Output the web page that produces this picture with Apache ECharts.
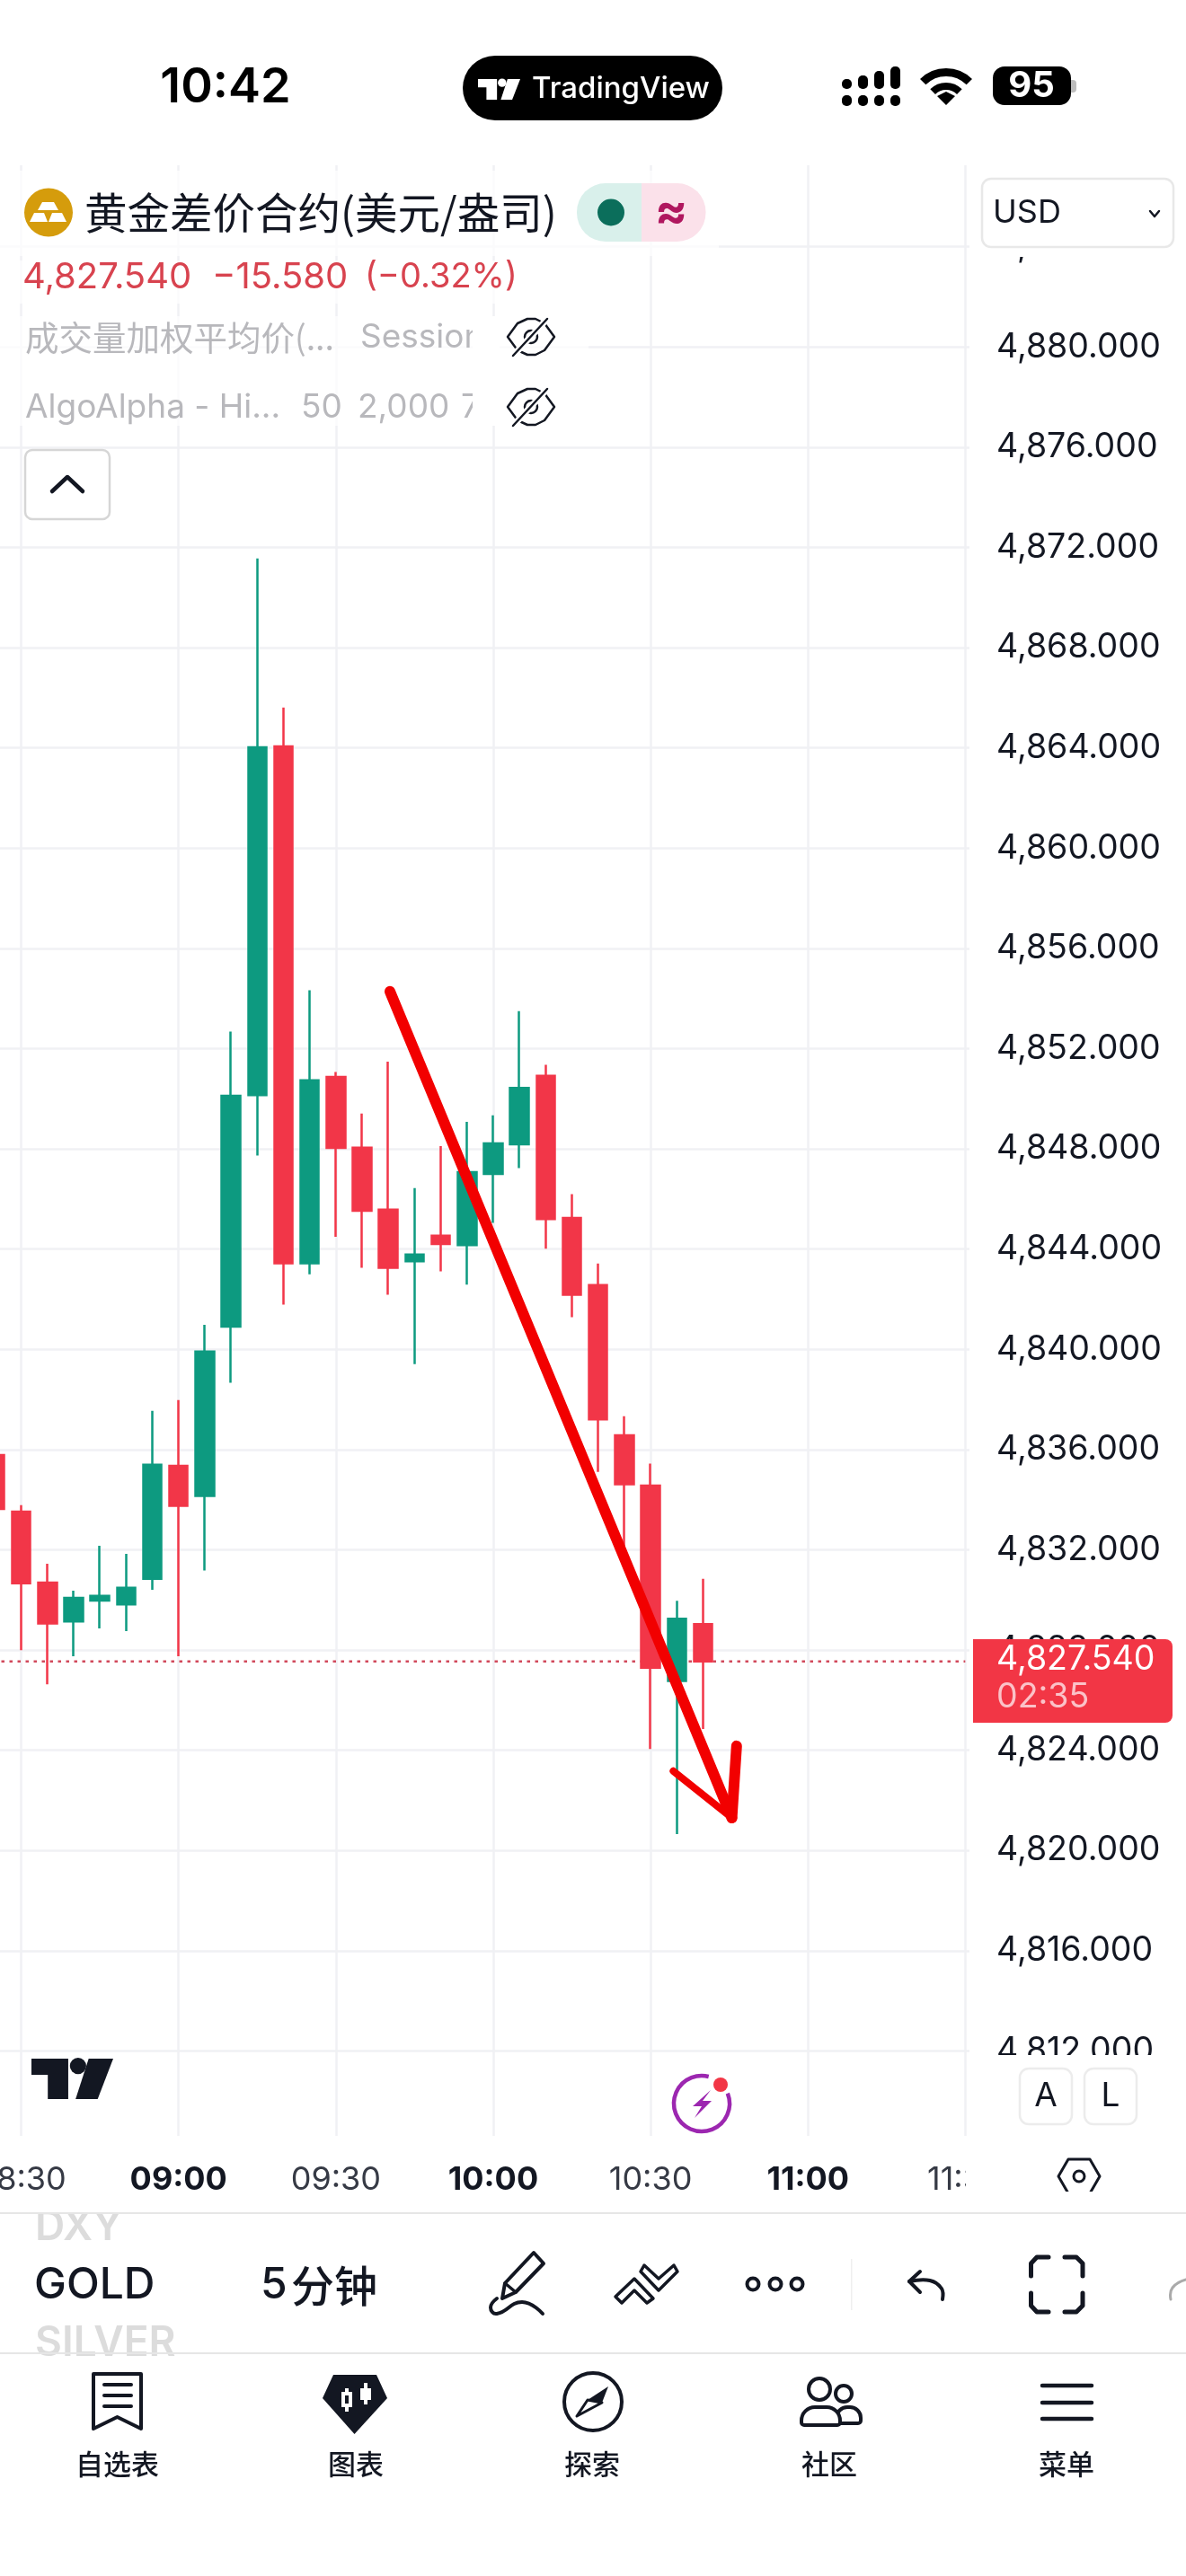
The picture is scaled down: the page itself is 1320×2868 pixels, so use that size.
<!DOCTYPE html>
<html>
<head>
<meta charset="utf-8">
<title>GOLD</title>
<script src="https://cdn.jsdelivr.net/npm/echarts@6/dist/echarts.min.js"></script>
<style>
html,body{margin:0;padding:0;background:#fff;}
#chart{width:1320px;height:2868px;}
</style>
</head>
<body>
<div id="chart"></div>
<script>
// 5 minute bars
var barTimes = ['08:25','08:30','08:35','08:40','08:45','08:50','08:55','09:00','09:05','09:10','09:15','09:20','09:25','09:30','09:35','09:40','09:45','09:50','09:55','10:00','10:05','10:10','10:15','10:20','10:25','10:30','10:35','10:40'];
var opens  = [4835.78,4833.52,4830.69,4829.14,4829.97,4829.82,4830.84,4835.35,4834.15,4840.90,4850.14,4864.06,4843.43,4850.87,4848.05,4845.57,4843.51,4844.53,4844.16,4847.00,4848.18,4850.91,4845.24,4842.56,4836.57,4834.56,4826.76,4829.03];
var closes = [4833.63,4830.66,4829.06,4830.08,4830.16,4830.48,4835.39,4833.75,4839.91,4850.12,4864.02,4843.43,4850.73,4848.04,4845.53,4843.25,4843.78,4844.20,4847.07,4848.22,4850.43,4845.20,4842.18,4837.20,4834.61,4827.29,4829.25,4827.54];
var lows   = [4833.00,4827.99,4826.63,4827.75,4828.86,4828.75,4830.40,4827.75,4831.17,4838.66,4847.73,4841.78,4842.99,4844.49,4843.25,4842.18,4839.41,4843.11,4842.58,4845.04,4847.23,4844.01,4841.28,4835.11,4831.84,4824.05,4820.65,4824.85];
var highs  = [4836.50,4833.78,4831.44,4830.37,4832.16,4831.84,4837.54,4837.97,4840.98,4852.68,4871.56,4865.61,4854.33,4851.07,4849.41,4851.48,4846.43,4848.11,4849.08,4849.34,4853.49,4851.35,4846.19,4843.42,4837.33,4835.44,4829.96,4830.84];
var lastPrice = 4827.54;
var lastPriceSpan = ['08:00','11:30'];
// hand drawn arrow, [minutes of day, price]
var arrowShaft = [[580.3,4854.28],[645.5,4821.3]];
var arrowHeadLeft = [[634.33,4823.17],[645.5,4821.3]];
var arrowHeadRight = [[646.4,4824.17],[645.5,4821.3]];
var tabLabels = ['自选表','图表','探索','社区','菜单'];

var latin = 'Inter, "Noto Sans CJK SC", sans-serif';
var cjk = '"Noto Sans CJK SC", sans-serif';

function toMin(t){ var p = t.split(':'); return +p[0]*60 + +p[1]; }
function hhmm(m){ var h = Math.floor(m/60), n = m%60; return (h<10?'0':'')+h+':'+(n<10?'0':'')+n; }
function price(v){ return echarts.format.addCommas(v.toFixed(3)); }

// small helpers for the app chrome around the chart
var els = [];
function txt(x,y,s,size,color,o){ o=o||{}; els.push({type:'text',x:x,y:y,silent:true,z:100,z2:o.z2||5,style:{text:s,fill:color,fontSize:size,fontFamily:o.font||latin,fontWeight:o.weight||400,align:o.align||'left',verticalAlign:'middle'}}); }
function rect(x,y,w,h,fill,r,stroke,lw,z2){ els.push({type:'rect',silent:true,z:100,z2:z2||1,shape:{x:x,y:y,width:w,height:h,r:r||0},style:{fill:fill,stroke:stroke||null,lineWidth:lw||0}}); }
function poly(pts,fill,stroke,lw){ els.push({type:'polygon',silent:true,z:100,z2:6,shape:{points:pts},style:{fill:fill||null,stroke:stroke||null,lineWidth:lw||0,lineJoin:'round'}}); }
function pl(pts,color,lw,smooth){ els.push({type:'polyline',silent:true,z:100,z2:6,shape:{points:pts,smooth:smooth||0},style:{fill:null,stroke:color,lineWidth:lw,lineCap:'round',lineJoin:'round'}}); }
function circ(x,y,r,fill,stroke,lw){ els.push({type:'circle',silent:true,z:100,z2:6,shape:{cx:x,cy:y,r:r},style:{fill:fill||null,stroke:stroke||null,lineWidth:lw||0}}); }
function arc(x,y,r,a,b,color,lw){ els.push({type:'arc',silent:true,z:100,z2:6,shape:{cx:x,cy:y,r:r,startAngle:a,endAngle:b,clockwise:true},style:{fill:null,stroke:color,lineWidth:lw,lineCap:'butt'}}); }
function tvLogo(x,y,w,h,color){
  poly([[x,y],[x+.45*w,y],[x+.45*w,y+h],[x+.2*w,y+h],[x+.2*w,y+.4*h],[x,y+.4*h]],color);
  circ(x+.57*w,y+.18*h,.1*w,color);
  poly([[x+.7*w,y],[x+w,y],[x+.81*w,y+h],[x+.54*w,y+h]],color);
}
function eye(cx,cy){
  poly([[cx-26,cy],[cx-15,cy-15],[cx-4,cy-20],[cx+5,cy-20],[cx+15,cy-15],[cx+26,cy],[cx+15,cy+15],[cx+5,cy+20],[cx-4,cy+20],[cx-15,cy+15]],null,'#131722',2.5);
  circ(cx,cy,7,null,'#131722',2.5);
  pl([[cx+18,cy-20],[cx-20,cy+21]],'#fff',7);
  pl([[cx+18,cy-20],[cx-20,cy+21]],'#131722',2.5);
}

// covers, things the app paints over its pane
rect(1080,184,240,102,'#fff');
rect(1080,2288,240,92,'#fff');
rect(0,2378,1320,22,'#fff');
rect(1075,2400,245,62,'#fff');
rect(0,190,800,95,'rgba(255,255,255,0.7)');
rect(0,290,640,48,'rgba(255,255,255,0.7)');
rect(0,352,655,122,'rgba(255,255,255,0.7)');

// status bar
txt(251,98,'10:42',54,'#000',{weight:600,align:'center'});
rect(515,62,289,72,'#000',36);
tvLogo(532,88,47,23,'#fff');
txt(592,99,'TradingView',33,'#fff',{weight:500});
var sigX = [937,955,973,991], sigTop = [88,84,79,74];
sigX.forEach(function(x,i){ rect(x,sigTop[i],11,99-sigTop[i],'#000',5,null,0,6); rect(x,106,11,12,'#000',5,null,0,6); });
arc(1053,117,36.5,-Math.PI*.75,-Math.PI*.25,'#000',9);
arc(1053,117,21,-Math.PI*.75,-Math.PI*.25,'#000',8);
poly([[1043,107],[1053,102],[1063,107],[1053,117]],'#000');
rect(1105,74,87,43,'#000',13,null,0,4);
rect(1192,89,6,14,'#bdbdbd',[0,4,4,0]);
txt(1148,96,'95',40,'#fff',{weight:700,align:'center'});

// legend
circ(54,236.5,27,'#D59C0C');
poly([[47,225],[60,225],[65,234],[42,234]],'#fff');
poly([[38,237],[49,237],[53,247],[33,247]],'#fff');
poly([[58,237],[69,237],[74,247],[54,247]],'#fff');
txt(94,237,'黄金差价合约(美元/盎司)',47.5,'#131722',{font:cjk});
rect(642,204,72,65,'#D9F0EB',[32,0,0,32]);
rect(714,204,71.5,65,'#FBE1EA',[0,32,32,0]);
circ(680,236.5,15,'#0B6E5B');
txt(747,237,'≈',54,'#B0175F',{weight:700,align:'center'});
rect(1093,199,213,76,'#fff',10,'#E8E8E8',2.5,2);
txt(1105,237,'USD',36,'#131722');
pl([[1280,235],[1285,241],[1290,235]],'#131722',2.5);
txt(25,309,'4,827.540',40,'#D8434F');
txt(236,309,'−15.580',40,'#D8434F');
txt(406,309,'(−0.32%)',38,'#D8434F');
txt(28,376,'成交量加权平均价(...',37.5,'#B8B8BC',{font:cjk});
txt(401,376,'Session',37,'#B8B8BC');
txt(28,454,'AlgoAlpha - Hi...',37,'#B8B8BC');
txt(335,454,'50',37,'#B8B8BC');
txt(398,454,'2,000',37,'#B8B8BC');
txt(513,454,'7',37,'#B8B8BC');
rect(526,352,30,122,'#fff',0,null,0,7);
eye(591,375);
eye(591,453);
rect(28,501,94,77,'#fff',8,'#D6D6D6',2.5,2);
pl([[58,547],[75,531],[92,547]],'#131722',4.5);

// current price tag
rect(1083,1825,222,93,'#F23645',[0,8,8,0]);
txt(1109,1848,price(lastPrice),37.5,'#fff');
txt(1109,1890,'02:35',37.5,'#FBC2C8');

// chart corner marks
tvLogo(35,2292,91,45,'#131722');
arc(781,2342,31,-Math.PI*.12,-Math.PI*.42,'#9C27B0',4.5);
circ(802,2321,8,'#F23645');
poly([[791,2327],[771,2345],[781,2345],[773,2358],[792,2339],[782,2339]],'#9C27B0');
rect(1135,2303,58,62,'#fff',10,'#ECECEC',2.5,2);
rect(1207,2303,58,62,'#fff',10,'#ECECEC',2.5,2);
txt(1164,2334,'A',37,'#131722',{align:'center'});
txt(1236,2334,'L',37,'#131722',{align:'center'});
poly([[1178,2423],[1189,2404],[1213,2404],[1224,2423],[1213,2442],[1189,2442]],null,'#131722',3);
circ(1201,2423,6,null,'#131722',3);

// symbol strip, neighbours are cut off by the rules
txt(39,2480,'DXY',46,'#DCDCDC',{weight:600});
txt(39,2609,'SILVER',46,'#DCDCDC',{weight:600});
rect(0,2440,1320,24,'#fff',0,null,0,6);
rect(0,2621,1320,30,'#fff',0,null,0,4);
rect(0,2463,1320,2,'#E6E6E6',0,null,0,7);
rect(0,2619,1320,2,'#E6E6E6',0,null,0,7);
txt(38,2545,'GOLD',48,'#131722',{weight:500});
txt(290,2545,'5',48,'#131722',{weight:500});
txt(324,2545,'分钟',48,'#131722',{font:cjk,weight:500});
// pen
poly([[594,2508],[605,2520],[574,2552],[559,2559],[562,2542]],null,'#131722',4);
pl([[562,2542],[574,2552]],'#131722',3.5);
pl([[553,2559],[546,2569],[553,2576],[581,2563],[604,2576]],'#131722',4,.5);
// drawing templates
poly([[685,2557],[706,2537],[727,2559],[720,2564],[706,2550],[692,2564]],null,'#131722',3.5);
poly([[713,2529],[733,2550],[754,2529],[750,2522],[733,2537],[717,2522]],null,'#131722',3.5);
circ(838,2543,6.5,null,'#131722',4);
circ(863,2543,6.5,null,'#131722',4);
circ(887,2543,6.5,null,'#131722',4);
rect(947,2515,1.5,57,'#EFEFEF',0,null,0,6);
pl([[1024,2529],[1012,2540],[1024,2552]],'#131722',4);
pl([[1012,2540],[1035,2539],[1048,2548],[1049,2560]],'#131722',4,.4);
pl([[1147.5,2534],[1147.5,2520],[1154,2513],[1167,2513]],'#131722',5);
pl([[1185,2513],[1198,2513],[1205,2520],[1205,2534]],'#131722',5);
pl([[1147.5,2553],[1147.5,2567],[1154,2574],[1167,2574]],'#131722',5);
pl([[1205,2553],[1205,2567],[1198,2574],[1185,2574]],'#131722',5);
pl([[1303,2560],[1305,2547],[1320,2538]],'#AAAAAA',3,.5);

// tab bar
poly([[104,2643],[157,2643],[157,2704],[130.5,2691],[104,2704]],null,'#131722',4);
pl([[116,2655],[146,2655]],'#131722',4);
pl([[116,2667],[146,2667]],'#131722',4);
pl([[116,2679],[146,2679]],'#131722',4);
poly([[371,2644],[419,2644],[431,2670],[394.5,2710],[359,2670]],'#131722');
rect(384,2659,4,26,'#fff',0,null,0,7);
rect(380,2663,12,17,'#fff',0,null,0,7);
rect(384,2667,4,9,'#131722',0,null,0,8);
rect(405,2653,4,24,'#fff',0,null,0,7);
rect(401,2659,12,13,'#fff',0,null,0,7);
circ(660,2674,32,null,'#131722',4);
poly([[677,2657],[670,2675],[654,2672]],'#131722');
poly([[654,2672],[670,2675],[642,2690]],null,'#131722',3);
circ(939,2665,9,null,'#131722',4);
rect(931,2680,27,18,'#fff',[12,12,3,3],'#131722',4,6);
circ(912,2660,12,'#fff','#131722',4);
rect(892,2680,43,20,'#fff',[15,15,3,3],'#131722',4,7);
pl([[1160,2656],[1215,2656]],'#131722',4.5);
pl([[1160,2675],[1215,2675]],'#131722',4.5);
pl([[1160,2693],[1215,2693]],'#131722',4.5);
var tabX = [130.5,396,659,923,1187];
tabLabels.forEach(function(s,i){ txt(tabX[i],2743,s,31,'#131722',{font:cjk,align:'center',weight:500}); });

var bars = barTimes.map(function(t,i){ return [toMin(t),opens[i],closes[i],lows[i],highs[i]]; });
function seg(a,w){ return [{coord:a[0],lineStyle:{color:'#F20000',type:'solid',width:w,cap:'round'}},{coord:a[1]}]; }

var myChart = echarts.init(document.getElementById('chart'));
var option = {
  animation:false,
  backgroundColor:'#fff',
  grid:{left:-151.5,top:184,width:1230.5,height:2211,containLabel:false,outerBoundsMode:'none'},
  xAxis:{
    type:'value',min:480,max:690.8,interval:30,z:0,
    axisLine:{show:false},axisTick:{show:false},
    splitLine:{show:true,showMaxLine:false,lineStyle:{color:'#F0F1F4',width:2.5}},
    axisLabel:{
      margin:14,showMaxLabel:false,hideOverlap:false,
      formatter:function(v){ return (v%60===0?'{h|':'{m|')+hhmm(v)+'}'; },
      rich:{
        h:{fontFamily:latin,fontSize:36,fontWeight:700,color:'#131722'},
        m:{fontFamily:latin,fontSize:36,fontWeight:400,color:'#363A45'}
      }
    }
  },
  yAxis:{
    type:'value',position:'right',min:4808,max:4887.25,interval:4,scale:true,z:0,
    axisLine:{show:false},axisTick:{show:false},
    splitLine:{show:true,showMinLine:false,showMaxLine:false,lineStyle:{color:'#F0F1F4',width:2.5}},
    axisLabel:{margin:30,showMinLabel:false,showMaxLabel:false,fontFamily:latin,fontSize:37.5,color:'#131722',formatter:function(v){ return price(v); }}
  },
  graphic:{z:100,elements:els},
  series:[
    {
      type:'line',z:1,symbol:'none',silent:true,
      data:[[toMin(lastPriceSpan[0]),lastPrice],[toMin(lastPriceSpan[1]),lastPrice]],
      lineStyle:{color:'#D1495B',width:2.5,type:[3.5,5.5]}
    },
    {
      type:'candlestick',z:2,barWidth:21,silent:true,
      data:bars,
      itemStyle:{color:'#0D9A80',color0:'#F23648',borderColor:'#0D9A80',borderColor0:'#F23648',borderWidth:2.5},
      markLine:{
        silent:true,symbol:'none',animation:false,
        label:{show:false},
        emphasis:{disabled:true},
        data:[seg(arrowShaft,12),seg(arrowHeadLeft,8),seg(arrowHeadRight,12)]
      }
    }
  ]
};
myChart.setOption(option,true);
</script>
</body>
</html>
